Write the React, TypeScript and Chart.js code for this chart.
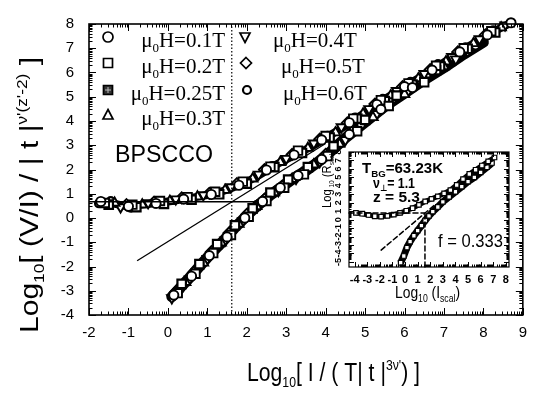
import React, { useEffect, useRef } from "react";
import { Chart, registerables } from "chart.js";

Chart.register(...registerables);

type P = [number, number];

// ---------------- main chart data ----------------
const xTicks = [-2, -1, 0, 1, 2, 3, 4, 5, 6, 7, 8, 9];
const yTicks = [-4, -3, -2, -1, 0, 1, 2, 3, 4, 5, 6, 7, 8];
const fields = ["0.1T", "0.2T", "0.25T", "0.3T", "0.4T", "0.5T", "0.6T"];

const field01T: P[] = [
  [-1.7, 0.68], [-1.0, 0.48], [-0.3, 0.6], [0.4, 0.78], [1.1, 0.97], [1.8, 1.35], [2.5, 1.98], [3.2, 2.6],
  [3.9, 3.22], [4.6, 3.93], [5.3, 4.68], [6.0, 5.42], [6.7, 6.1], [7.4, 6.85], [8.1, 7.55], [8.7, 8.05],
  [0.15, -3.18], [0.6, -2.4], [1.05, -1.55], [1.5, -0.78], [1.95, 0.0], [2.4, 0.68], [2.85, 1.25], [3.3, 1.75],
  [3.9, 2.42], [4.6, 3.45], [5.4, 4.48], [6.2, 5.38],
];
const field02T: P[] = [
  [-1.6, 0.62], [-0.9, 0.55], [-0.2, 0.7], [0.5, 0.86], [1.2, 1.08], [1.9, 1.5], [2.6, 2.12], [3.3, 2.78],
  [4.0, 3.38], [4.7, 4.1], [5.4, 4.86], [6.1, 5.55], [6.8, 6.28], [7.5, 7.0], [8.2, 7.7],
  [0.25, -3.1], [0.7, -2.3], [1.15, -1.45], [1.6, -0.7], [2.05, 0.05], [2.5, 0.7], [2.95, 1.25], [3.45, 1.8],
  [4.05, 2.55], [4.8, 3.58], [5.6, 4.62], [6.5, 5.6],
];
const field025T: P[] = [
  [-1.5, 0.55], [-0.8, 0.45], [-0.1, 0.58], [0.6, 0.76], [1.3, 0.98], [2.0, 1.42], [2.7, 2.1], [3.4, 2.68],
  [4.1, 3.32], [4.8, 4.1], [5.5, 4.82], [6.2, 5.5], [6.9, 6.25], [7.6, 6.98], [8.3, 7.65],
  [0.35, -2.72], [0.8, -1.9], [1.25, -1.08], [1.7, -0.3], [2.15, 0.4], [2.6, 1.05], [3.05, 1.58], [3.55, 2.1],
  [4.2, 2.95], [5.0, 4.05], [5.8, 5.05], [6.8, 6.1],
];
const field03T: P[] = [
  [-1.35, 0.62], [-0.65, 0.55], [0.05, 0.7], [0.75, 0.88], [1.45, 1.15], [2.15, 1.62], [2.85, 2.3], [3.55, 2.88],
  [4.25, 3.52], [4.95, 4.3], [5.65, 5.05], [6.35, 5.75], [7.05, 6.45], [7.75, 7.2], [8.45, 7.85],
  [0.45, -2.65], [0.9, -1.85], [1.35, -1.02], [1.8, -0.25], [2.25, 0.48], [2.7, 1.05], [3.15, 1.6], [3.7, 2.2],
  [4.35, 3.05], [5.2, 4.15], [6.0, 5.1], [7.0, 6.25],
];
const field04T: P[] = [
  [-1.2, 0.45], [-0.5, 0.62], [0.2, 0.78], [0.9, 0.95], [1.6, 1.28], [2.3, 1.8], [3.0, 2.45], [3.7, 3.08],
  [4.4, 3.75], [5.1, 4.5], [5.8, 5.25], [6.5, 5.95], [7.2, 6.65], [7.9, 7.38], [8.55, 7.95],
  [0.1, -3.3], [0.55, -2.52], [1.0, -1.68], [1.45, -0.92], [1.9, -0.12], [2.35, 0.58], [2.8, 1.12], [3.25, 1.62],
  [3.85, 2.32], [4.5, 3.22], [5.3, 4.3], [6.1, 5.25], [7.3, 6.55],
];
const field05T: P[] = [
  [-1.05, 0.55], [-0.35, 0.66], [0.35, 0.83], [1.05, 1.02], [1.75, 1.42], [2.45, 2.0], [3.15, 2.62], [3.85, 3.25],
  [4.55, 3.92], [5.25, 4.7], [5.95, 5.42], [6.65, 6.12], [7.35, 6.85], [8.05, 7.55],
  [0.2, -3.05], [0.65, -2.25], [1.1, -1.4], [1.55, -0.62], [2.0, 0.15], [2.45, 0.78], [2.9, 1.32], [3.4, 1.85],
  [4.0, 2.62], [4.7, 3.6], [5.5, 4.7], [6.4, 5.7], [7.6, 6.9],
];
const field06T: P[] = [
  [-1.75, 0.6], [-1.45, 0.7], [-0.95, 0.42], [-0.15, 0.62], [0.55, 0.82], [1.25, 1.05], [1.95, 1.48], [2.65, 2.15],
  [3.35, 2.75], [4.05, 3.4], [4.75, 4.15], [5.45, 4.92], [6.15, 5.62], [6.85, 6.35], [7.55, 7.05], [8.25, 7.75],
  [0.3, -2.95], [0.75, -2.1], [1.2, -1.3], [1.65, -0.5], [2.1, 0.25], [2.55, 0.85], [3.0, 1.4], [3.6, 2.05],
  [4.25, 2.9], [4.9, 3.85], [5.7, 4.9], [6.6, 5.95], [7.8, 7.1],
];
const fieldSeries: P[][] = [field01T, field02T, field025T, field03T, field04T, field05T, field06T];

// dense overlap of the markers reads as a solid band along each branch
const upperBranchBand: P[] = [
  [-1.75, 0.62], [-1.4, 0.6], [-1.1, 0.5], [-0.8, 0.52], [-0.5, 0.58], [-0.2, 0.64], [0.1, 0.7], [0.4, 0.78],
  [0.7, 0.86], [1.0, 0.95], [1.3, 1.06], [1.6, 1.22], [1.9, 1.42], [2.2, 1.66], [2.5, 1.96], [2.8, 2.25],
  [3.1, 2.5], [3.4, 2.74], [3.7, 3.0], [4.0, 3.3], [4.5, 3.8], [5.0, 4.35], [5.5, 4.9], [6.0, 5.42],
  [6.5, 5.9], [7.0, 6.42], [7.5, 6.95], [8.0, 7.45], [8.4, 7.8], [8.7, 8.05],
];
const lowerBranchBand: P[] = [
  [0.1, -3.25], [0.3, -2.9], [0.5, -2.55], [0.8, -2.0], [1.1, -1.45], [1.4, -0.95], [1.7, -0.4], [2.0, 0.1],
  [2.3, 0.55], [2.6, 0.95], [2.9, 1.3], [3.2, 1.65], [3.5, 1.95], [3.8, 2.3], [4.1, 2.7], [4.5, 3.3],
  [5.0, 3.95], [5.5, 4.6], [6.0, 5.15], [6.5, 5.7], [7.0, 6.2], [7.5, 6.75], [8.0, 7.25],
];

const refHorizontal: P[] = [[-2, 0.67], [2.25, 0.67]];
const refVertical: P[] = [[1.62, -4], [1.62, 8]];
const refSlope: P[] = [[-0.78, -1.76], [4.0, 3.07]];

// ---------------- inset data ----------------
const insetXTicks = [-4, -3, -2, -1, 0, 1, 2, 3, 4, 5, 6, 7, 8];
const insetYTicks = [-5, -4, -3, -2, -1, 0, 1, 2, 3, 4, 5, 6, 7, 8];
const insetUpper: P[] = [
  [-3.9, 0.8], [-3.4, 0.7], [-2.9, 0.55], [-2.4, 0.4], [-1.9, 0.35], [-1.4, 0.45], [-0.9, 0.6], [-0.4, 0.8],
  [0.1, 1.05], [0.6, 1.35], [1.1, 1.75], [1.6, 2.15], [2.1, 2.45], [2.6, 2.75], [3.1, 3.1], [3.6, 3.5],
  [4.1, 4.1], [4.6, 4.8], [5.1, 5.4], [5.6, 5.9], [6.1, 6.4], [6.6, 6.9], [7.1, 7.35],
];
const insetLower: P[] = [
  [-0.35, -5.1], [-0.1, -4.3], [0.15, -3.3], [0.4, -2.6], [0.7, -1.9], [1.0, -1.3], [1.3, -0.7], [1.6, -0.1],
  [1.9, 0.45], [2.2, 0.95], [2.6, 1.5], [3.0, 2.1], [3.5, 2.7], [4.0, 3.3], [4.5, 3.9], [5.0, 4.5],
  [5.5, 5.0], [6.0, 5.6], [6.5, 6.2], [6.9, 6.7],
];
const insetHorizontal: P[] = [[-4.45, 0.8], [1.58, 0.8]];
const insetVertical: P[] = [[1.58, -5.6], [1.58, 0.8]];
const insetSlope: P[] = [[-1.9, -3.6], [2.4, 1.8]];

// ---------------- helpers ----------------
const SANS = '"Liberation Sans", Arial, Helvetica, "DejaVu Sans", sans-serif';
const SERIF = '"Liberation Serif", "Times New Roman", serif';

type Seg = [string, string, number];

function richWidth(ctx: CanvasRenderingContext2D, segs: Seg[]) {
  let w = 0;
  for (const [t, f] of segs) {
    ctx.font = f;
    w += ctx.measureText(t).width;
  }
  return w;
}

function drawRich(ctx: CanvasRenderingContext2D, segs: Seg[], x: number, y: number, width?: number, rot = 0) {
  ctx.save();
  ctx.translate(x, y);
  if (rot) ctx.rotate(rot);
  const w = richWidth(ctx, segs);
  if (width) ctx.scale(width / w, 1);
  ctx.textAlign = "left";
  ctx.textBaseline = "alphabetic";
  ctx.fillStyle = "#000";
  let cx = 0;
  for (const [t, f, dy] of segs) {
    ctx.font = f;
    ctx.fillText(t, cx, dy);
    cx += ctx.measureText(t).width;
  }
  ctx.restore();
}

const toXY = (pts: P[]) => pts.map(([x, y]) => ({ x, y }));

function drawMarker(ctx: CanvasRenderingContext2D, kind: number, x: number, y: number) {
  ctx.save();
  ctx.strokeStyle = "#000";
  ctx.fillStyle = "#fff";
  ctx.lineWidth = 1.7;
  ctx.beginPath();
  if (kind === 0) {
    ctx.arc(x, y, 5, 0, Math.PI * 2);
    ctx.fill(); ctx.stroke();
  } else if (kind === 1) {
    ctx.rect(x - 4.5, y - 4.5, 9, 9);
    ctx.fill(); ctx.stroke();
  } else if (kind === 2) {
    ctx.fillStyle = "#333";
    ctx.rect(x - 4.5, y - 4.5, 9, 9);
    ctx.fill(); ctx.stroke();
    ctx.strokeStyle = "#bbb";
    ctx.lineWidth = 1;
    ctx.beginPath();
    ctx.moveTo(x - 3, y); ctx.lineTo(x + 3, y);
    ctx.moveTo(x, y - 3); ctx.lineTo(x, y + 3);
    ctx.stroke();
  } else if (kind === 3) {
    ctx.moveTo(x, y - 5.5); ctx.lineTo(x + 5, y + 4); ctx.lineTo(x - 5, y + 4); ctx.closePath();
    ctx.fill(); ctx.stroke();
  } else if (kind === 4) {
    ctx.moveTo(x, y + 5.5); ctx.lineTo(x + 5, y - 4); ctx.lineTo(x - 5, y - 4); ctx.closePath();
    ctx.fill(); ctx.stroke();
  } else if (kind === 5) {
    ctx.moveTo(x, y - 5.5); ctx.lineTo(x + 5.5, y); ctx.lineTo(x, y + 5.5); ctx.lineTo(x - 5.5, y); ctx.closePath();
    ctx.fill(); ctx.stroke();
  } else {
    ctx.lineWidth = 2.2;
    ctx.arc(x, y, 4, 0, Math.PI * 2);
    ctx.fill(); ctx.stroke();
  }
  ctx.restore();
}

function drawFrameTicks(chart: any, major: number, minor: number, lw: number, xT: number[], yT: number[]) {
  const { ctx, chartArea: a, scales } = chart;
  const sx = scales.x, sy = scales.y;
  ctx.save();
  ctx.strokeStyle = "#000";
  ctx.lineWidth = 1;
  ctx.beginPath();
  const xs = (v: number) => sx.getPixelForValue(v);
  const ys = (v: number) => sy.getPixelForValue(v);
  for (const v of xT) {
    const p = Math.round(xs(v)) + 0.5;
    ctx.moveTo(p, a.bottom); ctx.lineTo(p, a.bottom - major);
    ctx.moveTo(p, a.top); ctx.lineTo(p, a.top + major);
    for (let k = 2; k <= 9; k++) {
      const mv = v + Math.log10(k);
      if (mv > sx.max) break;
      const q = Math.round(xs(mv)) + 0.5;
      ctx.moveTo(q, a.bottom); ctx.lineTo(q, a.bottom - minor);
      ctx.moveTo(q, a.top); ctx.lineTo(q, a.top + minor);
    }
  }
  for (const v of yT) {
    const p = Math.round(ys(v)) + 0.5;
    ctx.moveTo(a.left, p); ctx.lineTo(a.left + major, p);
    ctx.moveTo(a.right, p); ctx.lineTo(a.right - major, p);
    for (let k = 2; k <= 9; k++) {
      const mv = v + Math.log10(k);
      if (mv > sy.max) break;
      const q = Math.round(ys(mv)) + 0.5;
      ctx.moveTo(a.left, q); ctx.lineTo(a.left + minor, q);
      ctx.moveTo(a.right, q); ctx.lineTo(a.right - minor, q);
    }
  }
  ctx.stroke();
  ctx.lineWidth = lw;
  ctx.strokeRect(a.left, a.top, a.right - a.left, a.bottom - a.top);
  ctx.restore();
}

const mainDecor = {
  id: "mainDecor",
  afterDraw(chart: any) {
    const ctx: CanvasRenderingContext2D = chart.ctx;
    drawFrameTicks(chart, 7, 3.5, 1.6, xTicks, yTicks);

    // legend
    const rowsY = [47, 73, 100, 125];
    [0, 1, 2, 3].forEach((i, r) => {
      drawMarker(ctx, i, 108, rowsY[r] - 10);
      const segs: Seg[] = [["\u03bc", `21px ${SERIF}`, 0], ["0", `13px ${SERIF}`, 5], ["H=" + fields[i], `21px ${SERIF}`, 0]];
      const w = richWidth(ctx, segs);
      drawRich(ctx, segs, 225 - w, rowsY[r]);
    });
    const col2X = [273, 281, 283];
    const col2MX = [245, 246, 247];
    [4, 5, 6].forEach((i, r) => {
      drawMarker(ctx, i, col2MX[r], rowsY[r] - 10);
      const segs: Seg[] = [["\u03bc", `21px ${SERIF}`, 0], ["0", `13px ${SERIF}`, 5], ["H=" + fields[i], `21px ${SERIF}`, 0]];
      drawRich(ctx, segs, col2X[r], rowsY[r]);
    });

    // sample label
    drawRich(ctx, [["BPSCCO", `24px ${SANS}`, 0]], 115, 162, 98);

    // axis titles
    drawRich(ctx, [
      ["Log", `26px ${SANS}`, 0],
      ["10", `15px ${SANS}`, 6],
      ["[ I / ( T| t |", `26px ${SANS}`, 0],
      ["3\u03bd'", `15px ${SANS}`, -11],
      [") ]", `26px ${SANS}`, 0],
    ], 247, 381, 173);
    drawRich(ctx, [
      ["Log", `26px ${SANS}`, 0],
      ["10", `15px ${SANS}`, 6],
      ["[ (V/I) / | t |", `26px ${SANS}`, 0],
      ["\u03bd'(z'-2)", `15px ${SANS}`, -11],
      [" ]", `26px ${SANS}`, 0],
    ], 38, 333, 276, -Math.PI / 2);
  },
};

const insetDecor = {
  id: "insetDecor",
  beforeDraw(chart: any) {
    const { ctx, chartArea: a } = chart;
    ctx.save();
    ctx.fillStyle = "#fff";
    ctx.fillRect(a.left, a.top, a.right - a.left, a.bottom - a.top);
    ctx.restore();
  },
  afterDraw(chart: any) {
    const ctx: CanvasRenderingContext2D = chart.ctx;
    drawFrameTicks(chart, 5, 2.5, 1.2, insetXTicks, insetYTicks);
    const sy = chart.scales.y;
    ctx.save();
    ctx.fillStyle = "#000";
    ctx.font = `bold 9px ${SANS}`;
    ctx.textAlign = "center";
    ctx.textBaseline = "middle";
    for (const v of insetYTicks) {
      ctx.save();
      ctx.translate(19, sy.getPixelForValue(v));
      ctx.rotate(-Math.PI / 2);
      ctx.fillText(String(v), 0, 0);
      ctx.restore();
    }
    ctx.restore();
    drawRich(ctx, [
      ["Log", `12px ${SANS}`, 0],
      [" 10", `7px ${SANS}`, 3],
      [" (R", `12px ${SANS}`, 0],
      ["scal", `7px ${SANS}`, 3],
      [")", `12px ${SANS}`, 0],
    ], 11, 68, 58, -Math.PI / 2);
    drawRich(ctx, [
      ["Log", `16px ${SANS}`, 0],
      ["10", `10px ${SANS}`, 4],
      [" (I", `16px ${SANS}`, 0],
      ["scal", `10px ${SANS}`, 4],
      [")", `16px ${SANS}`, 0],
    ], 75, 158, 65);
    drawRich(ctx, [["T", `bold 14px ${SANS}`, 0], ["BG", `bold 9px ${SANS}`, 4], ["=63.23K", `bold 14px ${SANS}`, 0]], 42, 33, 81);
    drawRich(ctx, [["\u03bd", `bold 14px ${SANS}`, 0], ["\u22a5", `bold 9px ${SANS}`, 3], ["= 1.1", `bold 14px ${SANS}`, 0]], 53, 48, 42);
    drawRich(ctx, [["z = 5.3", `bold 14px ${SANS}`, 0]], 53, 62, 47);
    drawRich(ctx, [["f = 0.333", `18px ${SANS}`, 0]], 118, 107, 65);
  },
};

const markerStyles = [
  { pointStyle: "circle", radius: 4.6, rotation: 0, bw: 1.9 },
  { pointStyle: "rect", radius: 6, rotation: 0, bw: 1.9 },
  { pointStyle: "rect", radius: 6, rotation: 0, bw: 2.2 },
  { pointStyle: "triangle", radius: 5.5, rotation: 0, bw: 1.9 },
  { pointStyle: "triangle", radius: 5.5, rotation: 180, bw: 1.9 },
  { pointStyle: "rectRot", radius: 5.5, rotation: 0, bw: 1.9 },
  { pointStyle: "circle", radius: 3.8, rotation: 0, bw: 2.2 },
];

function lineDs(pts: P[], dash: number[], width: number, order = -1) {
  return {
    type: "line" as const,
    data: toXY(pts),
    borderColor: "#000",
    borderWidth: width,
    borderDash: dash,
    borderCapStyle: "round" as const,
    borderJoinStyle: "round" as const,
    pointRadius: 0,
    fill: false,
    showLine: true,
    tension: 0,
    order,
    clip: 8,
  };
}

export default function App() {
  const mainRef = useRef<HTMLCanvasElement | null>(null);
  const insetRef = useRef<HTMLCanvasElement | null>(null);

  useEffect(() => {
    if (!mainRef.current || !insetRef.current) return;

    const mainDatasets: any[] = [
      { ...lineDs(refHorizontal, [], 1.5), borderCapStyle: "butt" },
      { ...lineDs(refVertical, [1.5, 2], 1.2), borderCapStyle: "butt" },
      { ...lineDs(refSlope, [], 1.3), borderCapStyle: "butt" },
      lineDs(upperBranchBand, [], 8, 10),
      lineDs(lowerBranchBand, [], 11, 10),
      ...fieldSeries.map((s, i) => ({
        type: "scatter" as const,
        label: "\u03bc0H=" + fields[i],
        data: toXY(s),
        pointStyle: markerStyles[i].pointStyle,
        pointRadius: markerStyles[i].radius,
        pointRotation: markerStyles[i].rotation,
        pointBorderWidth: markerStyles[i].bw,
        pointBorderColor: "#000",
        pointBackgroundColor: "#fff",
        showLine: false,
        clip: 8,
        order: 0,
      })),
    ];

    const main = new Chart(mainRef.current, {
      type: "scatter",
      data: { datasets: mainDatasets },
      options: {
        animation: false,
        responsive: false,
        events: [],
        layout: { padding: { top: 13, right: 13, left: 0, bottom: 0 } },
        plugins: { legend: { display: false }, tooltip: { enabled: false } },
        scales: {
          x: {
            type: "linear",
            min: -2,
            max: 9,
            afterBuildTicks: (s: any) => { s.ticks = xTicks.map((v) => ({ value: v })); },
            afterFit: (s: any) => { s.height = 81; },
            grid: { display: false, drawTicks: false },
            border: { display: false },
            ticks: {
              padding: 9,
              color: "#000",
              font: { family: SANS, size: 15 },
              maxRotation: 0,
              autoSkip: false,
              callback: (v: any) => String(v),
            },
          },
          y: {
            type: "linear",
            min: -4,
            max: 8,
            afterBuildTicks: (s: any) => { s.ticks = yTicks.map((v) => ({ value: v })); },
            afterFit: (s: any) => { s.width = 89; },
            grid: { display: false, drawTicks: false },
            border: { display: false },
            ticks: {
              padding: 15,
              color: "#000",
              font: { family: SANS, size: 15 },
              autoSkip: false,
              callback: (v: any) => String(v),
            },
          },
        },
      },
      plugins: [mainDecor],
    } as any);

    const inset = new Chart(insetRef.current, {
      type: "scatter",
      data: {
        datasets: [
          lineDs(insetHorizontal, [5, 3], 1.5),
          lineDs(insetVertical, [5, 3], 1.5),
          lineDs(insetSlope, [5, 3], 1.5),
          {
            type: "line",
            data: toXY(insetUpper),
            borderColor: "#000",
            borderWidth: 5,
            pointStyle: "rect",
            pointRadius: 3.2,
            pointBorderWidth: 1.2,
            pointBorderColor: "#000",
            pointBackgroundColor: "#fff",
            tension: 0,
            fill: false,
          },
          {
            type: "line",
            data: toXY(insetLower),
            borderColor: "#000",
            borderWidth: 7,
            pointStyle: "rect",
            pointRadius: 3.2,
            pointBorderWidth: 1.2,
            pointBorderColor: "#000",
            pointBackgroundColor: "#fff",
            tension: 0,
            fill: false,
          },
        ],
      },
      options: {
        animation: false,
        responsive: false,
        events: [],
        layout: { padding: { top: 12, right: 2, left: 0, bottom: 0 } },
        plugins: { legend: { display: false }, tooltip: { enabled: false } },
        scales: {
          x: {
            type: "linear",
            min: -4.45,
            max: 8.25,
            afterBuildTicks: (s: any) => { s.ticks = insetXTicks.map((v) => ({ value: v })); },
            afterFit: (s: any) => { s.height = 43; },
            grid: { display: false, drawTicks: false },
            border: { display: false },
            ticks: {
              padding: 6,
              color: "#000",
              font: { family: SANS, size: 11, weight: "bold" },
              maxRotation: 0,
              autoSkip: false,
              callback: (v: any) => String(v),
            },
          },
          y: {
            type: "linear",
            min: -5.6,
            max: 8.0,
            afterBuildTicks: (s: any) => { s.ticks = insetYTicks.map((v) => ({ value: v })); },
            afterFit: (s: any) => { s.width = 29; },
            grid: { display: false, drawTicks: false },
            border: { display: false },
            ticks: { display: false },
          },
        },
      },
      plugins: [insetDecor],
    } as any);

    return () => {
      main.destroy();
      inset.destroy();
    };
  }, []);

  return (
    <div style={{ position: "absolute", left: 0, top: 0, width: 536, height: 396, background: "#fff" }}>
      <canvas ref={mainRef} width={536} height={396} style={{ position: "absolute", left: 0, top: 0 }} />
      <canvas ref={insetRef} width={195} height={170} style={{ position: "absolute", left: 320, top: 140 }} />
    </div>
  );
}
